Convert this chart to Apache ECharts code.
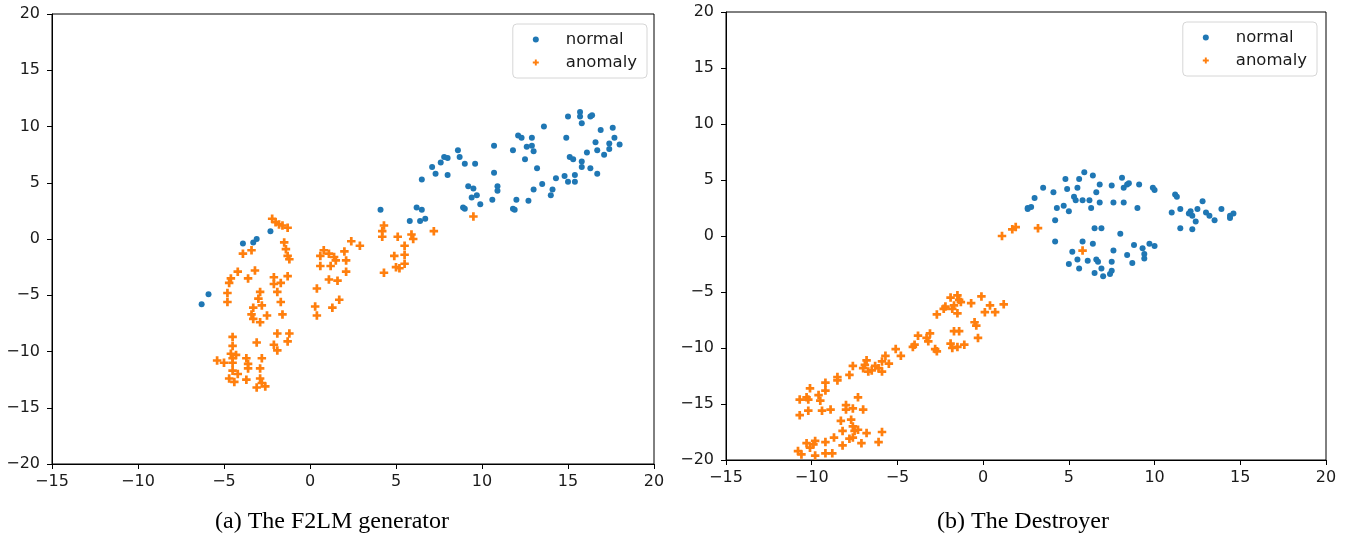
<!DOCTYPE html>
<html>
<head>
<meta charset="utf-8">
<script src="https://cdn.jsdelivr.net/npm/echarts@6/dist/echarts.min.js"></script>
<style>
  html, body { margin: 0; padding: 0; background: #fff; }
  #main { width: 1350px; height: 537px; }
</style>
</head>
<body>
<div id="main"></div>
<script>
// axis ticks shared by both panels
let xTicks = [-15, -10, -5, 0, 5, 10, 15, 20]
let yTicks = [-20, -15, -10, -5, 0, 5, 10, 15, 20]
let captions = ['(a) The F2LM generator', '(b) The Destroyer']
let seriesNames = ['normal', 'anomaly']

// (a) F2LM generator
let aNormal = [
  [-6.3,-5.8],[-5.9,-4.9],[-3.9,-0.4],[-3.3,-0.3],[-3.1,0.0],[-2.3,0.7],[4.1,2.6],[6.2,2.8],[6.5,2.6],
  [5.8,1.6],[6.4,1.6],[6.7,1.8],[6.5,5.3],[7.1,6.4],[7.3,5.8],[7.6,6.8],[7.8,7.3],[8.0,7.2],[8.0,5.7],
  [8.6,7.9],[8.7,7.3],[9.0,6.7],[9.6,6.7],[9.2,4.7],[9.5,4.5],[9.7,3.9],[9.4,3.7],[9.9,3.1],[8.9,2.8],
  [9.0,2.7],[10.7,8.3],[10.7,5.9],[10.9,4.7],[10.9,4.3],[10.6,3.5],[11.8,7.9],[12.1,9.2],[12.3,9.0],
  [12.9,9.0],[12.6,8.2],[12.9,8.3],[13.0,7.8],[12.5,7.1],[13.2,6.3],[13.6,10.0],[12.0,3.5],[11.8,2.7],
  [11.9,2.6],[12.7,3.4],[13.0,4.4],[13.5,4.9],[14.1,4.4],[14.0,3.9],[14.3,5.4],[14.8,5.6],[15.0,5.1],
  [15.4,5.1],[15.4,5.7],[15.8,6.4],[16.3,6.3],[16.7,5.8],[15.8,6.9],[15.1,7.3],[15.3,7.1],[16.1,7.7],
  [14.9,9.0],[15.0,10.9],[15.7,11.3],[15.7,10.9],[15.8,10.3],[16.3,10.9],[16.4,11.0],[16.6,8.6],
  [16.7,7.9],[17.1,7.5],[16.9,9.7],[17.6,9.9],[17.4,8.5],[17.7,9.0],[17.4,8.0],[18.0,8.4]
]
let aAnomaly = [
  [-2.2,1.8],[-2.0,1.5],[-1.8,1.3],[-1.6,1.2],[-1.3,1.0],[-1.5,-0.3],[-1.4,-0.9],[-1.3,-1.5],[-1.2,-1.8],
  [-1.3,-3.3],[-3.9,-1.3],[-3.4,-1.0],[-3.2,-2.8],[-3.6,-3.5],[-4.2,-2.9],[-4.6,-3.5],[-4.7,-3.9],
  [-4.8,-4.8],[-4.8,-5.6],[-2.1,-3.4],[-2.1,-4.0],[-1.7,-3.9],[-1.9,-4.7],[-2.9,-4.7],[-3.0,-5.3],
  [-2.8,-5.9],[-3.3,-6.1],[-3.4,-6.7],[-3.3,-7.1],[-2.9,-7.4],[-2.5,-6.8],[-1.7,-5.6],[-1.6,-6.7],
  [-1.9,-8.4],[-1.2,-8.4],[-1.3,-9.1],[-2.1,-9.4],[-1.9,-9.9],[-3.1,-9.2],[-4.5,-8.7],[-4.5,-9.5],
  [-4.6,-10.2],[-4.3,-10.3],[-4.5,-10.6],[-5.4,-10.8],[-5.0,-11.0],[-4.5,-11.0],[-3.7,-10.6],[-3.6,-11.1],
  [-3.6,-11.5],[-2.8,-10.6],[-2.9,-11.5],[-4.5,-11.7],[-4.2,-12.0],[-4.7,-12.4],[-4.4,-12.7],[-3.7,-12.5],
  [-2.9,-12.4],[-2.8,-12.8],[-3.1,-13.2],[-2.6,-13.1],
  [2.4,-0.2],[2.9,-0.6],[2.0,-1.1],[0.8,-1.0],[0.6,-1.5],[1.1,-1.3],[1.4,-1.6],[1.5,-1.9],[2.1,-1.9],
  [0.6,-2.4],[1.2,-2.4],[2.1,-2.9],[1.1,-3.6],[1.6,-3.7],[0.4,-4.4],[1.7,-5.4],[1.3,-6.1],[0.3,-6.0],
  [0.4,-6.8],
  [9.5,2.0],[4.3,1.2],[4.2,0.7],[4.2,0.2],[5.1,0.2],[5.9,0.4],[6.0,0.0],[5.5,-0.6],[7.2,0.7],[4.9,-1.5],
  [5.5,-1.4],[5.0,-2.5],[5.2,-2.6],[5.5,-2.2],[4.3,-3.0]
]

// (b) The Destroyer
let bNormal = [
  [2.6,2.5],[2.6,2.4],[2.8,2.6],[3.0,3.4],[3.5,4.3],[4.1,3.9],[4.3,2.5],[4.7,2.7],[5.0,2.2],[4.2,1.4],
  [4.8,5.1],[5.6,5.1],[5.9,5.7],[6.4,5.4],[4.9,4.2],[5.5,4.3],[5.3,3.5],[5.4,3.2],[5.8,3.2],[6.2,3.2],
  [6.3,2.5],[6.6,3.9],[6.8,4.6],[6.8,3.0],[7.5,4.5],[7.6,3.0],[8.1,5.2],[8.2,4.3],[8.4,4.6],[8.5,4.7],
  [8.2,3.0],[9.1,4.6],[9.0,2.5],[9.9,4.3],[10.0,4.1],[11.2,3.7],[11.3,3.5],[11.0,2.1],[11.5,2.4],
  [12.1,2.2],[12.2,1.8],[12.0,2.0],[12.5,2.4],[12.4,1.3],[12.8,3.1],[13.0,2.1],[13.2,1.8],[13.5,1.4],
  [13.9,2.4],[14.4,1.6],[14.4,1.8],[14.6,2.0],[11.5,0.7],[12.2,0.6],
  [6.5,0.7],[6.9,0.7],[8.0,0.2],[4.2,-0.5],[5.8,-0.5],[6.4,-0.7],[5.2,-1.4],[5.5,-2.1],[5.0,-2.5],
  [5.6,-2.9],[6.1,-2.2],[6.6,-2.1],[6.7,-2.3],[7.5,-2.3],[7.6,-1.3],[6.9,-2.9],[6.5,-3.3],[7.0,-3.6],
  [7.4,-3.4],[7.5,-3.1],[8.4,-1.7],[8.7,-2.4],[8.8,-0.8],[9.3,-1.1],[9.4,-1.6],[9.4,-2.0],[9.7,-0.7],
  [10.0,-0.9]
]
let bAnomaly = [
  [1.1,0.0],[1.7,0.6],[1.9,0.8],[3.2,0.7],[5.8,-1.3],
  [-1.9,-5.5],[-1.5,-5.3],[-1.4,-5.7],[-1.3,-5.9],[-1.7,-6.2],[-2.2,-6.3],[-2.3,-6.5],[-1.8,-6.5],
  [-1.5,-6.9],[-2.7,-7.0],[-0.7,-6.0],[-0.1,-5.4],[0.1,-6.8],[0.4,-6.2],[0.7,-6.8],[1.2,-6.1],
  [-0.5,-7.7],[-0.4,-8.0],[-0.3,-9.1],[-1.7,-8.5],[-1.4,-8.5],[-1.9,-9.6],[-1.8,-10.0],[-1.5,-9.9],
  [-1.1,-9.7],[-2.8,-10.1],[-2.7,-10.3],[-3.1,-8.7],[-3.3,-9.1],[-3.2,-9.4],[-3.8,-8.9],[-4.1,-9.9],
  [-4.0,-9.7],[-4.8,-10.7],[-5.1,-10.1],[-5.7,-10.7],[-5.5,-11.4],[-5.9,-11.2],[-6.1,-11.8],[-6.3,-11.6],
  [-5.9,-12.1],[-6.5,-12.0],[-6.8,-11.1],[-6.9,-11.5],[-6.7,-12.1],[-7.0,-11.8],[-7.6,-11.6],[-7.8,-12.4],
  [-8.5,-12.6],[-8.5,-12.9],[-9.2,-13.1],[-9.2,-13.8],[-9.6,-14.2],[-9.5,-14.7],[-10.1,-13.6],[-10.3,-14.4],
  [-10.2,-14.6],[-10.7,-14.6],[-10.7,-16.0],[-10.2,-15.6],[-9.4,-15.6],[-8.9,-15.5],[-8.0,-15.1],
  [-8.0,-15.5],[-7.6,-15.4],[-7.3,-14.4],[-7.0,-15.5],[-8.3,-16.5],[-7.7,-16.4],[-8.2,-17.4],[-7.6,-17.0],
  [-7.5,-17.4],[-7.3,-17.3],[-6.8,-17.6],[-5.9,-17.5],[-6.1,-18.4],[-7.1,-18.5],[-7.6,-18.0],[-7.8,-18.1],
  [-8.2,-18.7],[-8.7,-18.0],[-9.2,-18.4],[-9.8,-18.3],[-9.9,-18.6],[-10.3,-18.5],[-10.1,-18.9],
  [-9.8,-19.6],[-9.2,-19.4],[-8.8,-19.4],[-10.8,-19.2],[-10.6,-19.5]
]

let plusIcon = 'path://M0.34,0H0.66V0.34H1V0.66H0.66V1H0.34V0.66H0V0.34H0.34Z'
let blue = '#1f77b4'
let orange = '#ff7f0e'
let tickFont = 'DejaVu Sans'

function minus(v) {
  return String(v).replace('-', '\u2212')
}

function xAxisFor(i) {
  return {
    type: 'value', gridIndex: i, min: -15, max: 20, interval: 5,
    axisLine: { show: true, onZero: false, lineStyle: { color: '#000', width: 1 } },
    axisTick: { show: true, length: 5, inside: false, lineStyle: { color: '#000' } },
    axisLabel: { color: '#1a1a1a', fontSize: 16, fontFamily: tickFont, margin: 10,
      formatter: v => xTicks.includes(v) ? minus(v) : '' },
    splitLine: { show: false }
  }
}

function yAxisFor(i) {
  return {
    type: 'value', gridIndex: i, min: -20, max: 20, interval: 5,
    axisLine: { show: true, onZero: false, lineStyle: { color: '#000', width: 1 } },
    axisTick: { show: true, length: 5, inside: false, lineStyle: { color: '#000' } },
    axisLabel: { color: '#1a1a1a', fontSize: 16, fontFamily: tickFont, margin: 12,
      formatter: v => yTicks.includes(v) ? minus(v) : '' },
    splitLine: { show: false }
  }
}

function legendFor(right, top) {
  return {
    orient: 'vertical', right: right, top: top,
    data: [
      { name: seriesNames[0], icon: 'circle' },
      { name: seriesNames[1], icon: plusIcon }
    ],
    itemWidth: 6, itemHeight: 6, itemGap: 6,
    padding: [7, 10, 7, 20],
    borderColor: '#d6d6d6', borderWidth: 1, borderRadius: 4,
    textStyle: { fontSize: 16.5, fontFamily: tickFont, color: '#1a1a1a', padding: [0, 0, 0, 22] }
  }
}

function scatter(name, i, data, color, symbol, size) {
  return {
    name: name, type: 'scatter', xAxisIndex: i, yAxisIndex: i,
    data: data, symbol: symbol, symbolSize: size,
    itemStyle: { color: color, opacity: 1 },
    emphasis: { disabled: true },
    animation: false
  }
}

let option = {
  backgroundColor: '#fff',
  animation: false,
  grid: [
    { left: 52, top: 14, width: 602, height: 450, show: true, borderColor: '#000', borderWidth: 1, backgroundColor: 'transparent' },
    { left: 726, top: 12, width: 600, height: 448, show: true, borderColor: '#000', borderWidth: 1, backgroundColor: 'transparent' }
  ],
  xAxis: [xAxisFor(0), xAxisFor(1)],
  yAxis: [yAxisFor(0), yAxisFor(1)],
  legend: [legendFor(1350 - 647, 24), legendFor(1350 - 1317, 22)],
  series: [
    scatter(seriesNames[0], 0, aNormal, blue, 'circle', 6),
    scatter(seriesNames[1], 0, aAnomaly, orange, plusIcon, 8.5),
    scatter(seriesNames[0], 1, bNormal, blue, 'circle', 6),
    scatter(seriesNames[1], 1, bAnomaly, orange, plusIcon, 8.5)
  ],
  graphic: [
    { type: 'text', x: 332, y: 522, style: { text: captions[0], fontSize: 24, fontFamily: 'Liberation Serif', fill: '#000', textAlign: 'center', textVerticalAlign: 'middle' } },
    { type: 'text', x: 1023, y: 522, style: { text: captions[1], fontSize: 24, fontFamily: 'Liberation Serif', fill: '#000', textAlign: 'center', textVerticalAlign: 'middle' } }
  ]
}

let myChart = echarts.init(document.getElementById('main'))
myChart.setOption(option)
</script>
</body>
</html>
